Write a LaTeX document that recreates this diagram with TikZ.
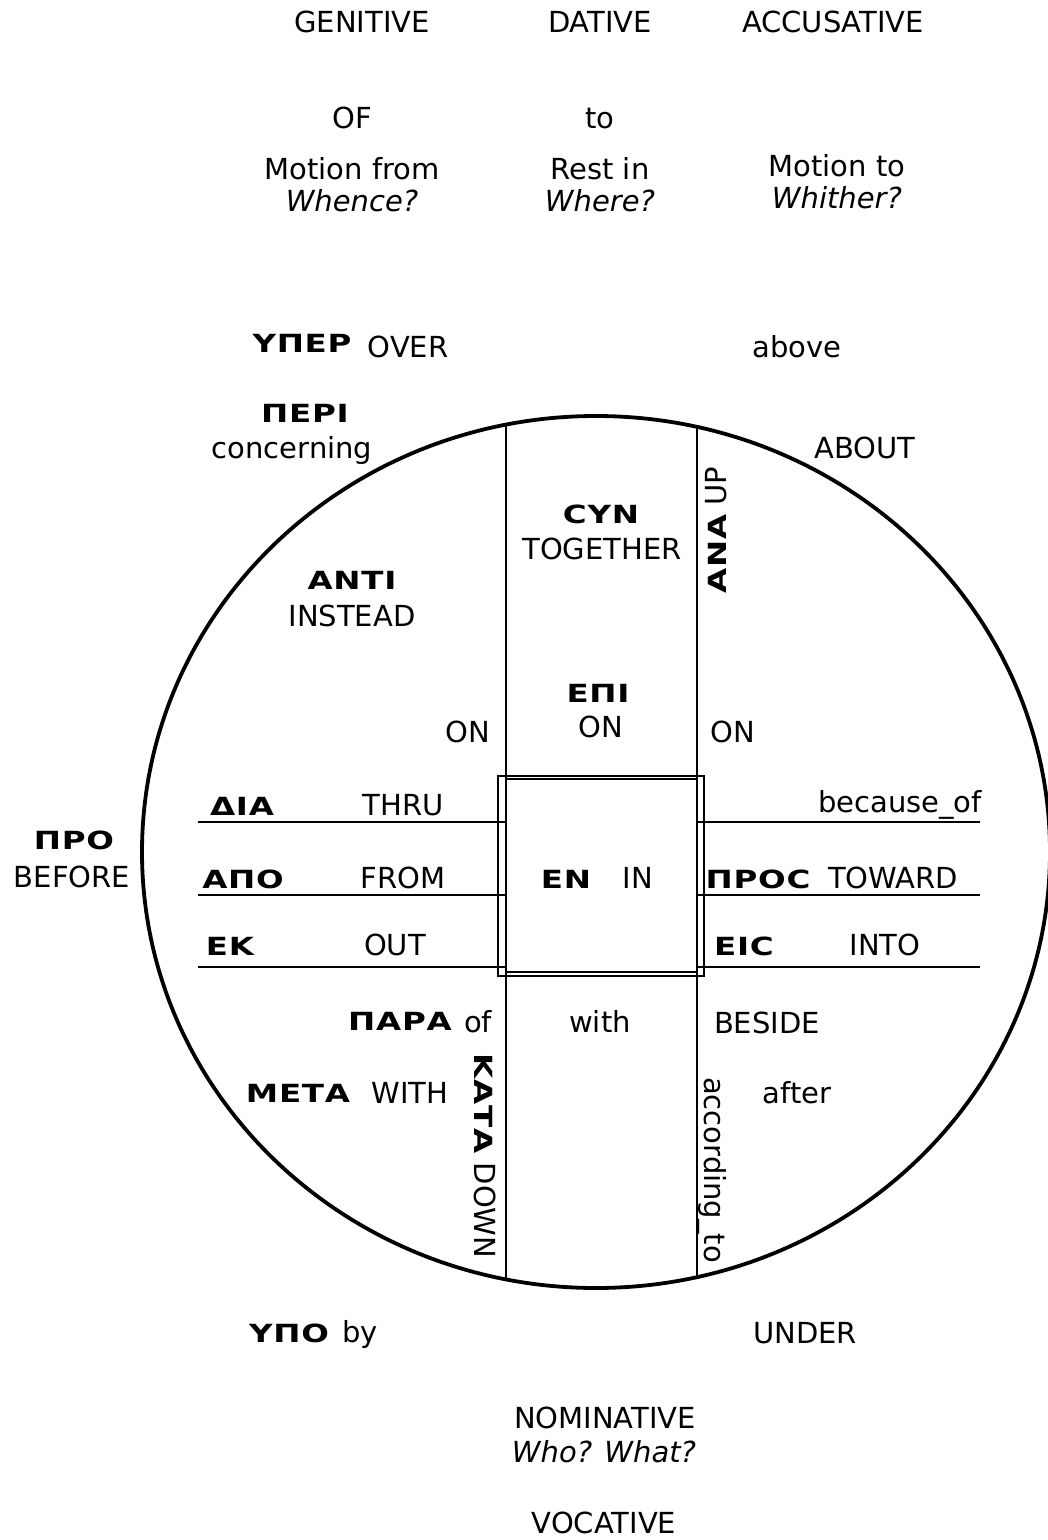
\documentclass[tikz,border=0pt]{standalone}
\usepackage{fontspec}
\setmainfont{DejaVu Sans}
\newfontfamily\grkfont[FakeStretch=1.3,LetterSpace=3]{DejaVu Sans}
\usepackage{tikz}
\newcommand\gtext[1]{{\grkfont\bfseries\fontsize{25}{28}\selectfont #1}}

\tikzset{
  lbl/.style={font=\fontsize{29}{33}\selectfont, inner sep=0pt, anchor=base},
  ital/.style={lbl, font=\fontsize{29}{33}\selectfont\itshape},
  grk/.style={font=\grkfont\bfseries\fontsize{25}{28}\selectfont, inner sep=0pt, anchor=base},
  rim/.style={line width=3.8pt},
  grid/.style={line width=2pt}
}

\begin{document}
\begin{tikzpicture}[x=1pt,y=-1pt]
   \useasboundingbox (0,0) rectangle (1048,1540);

   \draw[rim] (596,852) ellipse [x radius=454, y radius=436];
   \begin{scope}
     \clip (596,852) ellipse [x radius=454, y radius=436];
     \draw[grid] (506,0) -- (506,1540) (697,0) -- (697,1540);
   \end{scope}
   \draw[grid] (498,776) rectangle (704,976);
   \draw[grid] (506,779) rectangle (697,972);
   \foreach \y in {822,895,967} {
     \draw[grid] (198,\y) -- (506,\y);
     \draw[grid] (697,\y) -- (980,\y);
   }

   \node[lbl] (gen) at (362,32) {GENITIVE};
   \node[lbl] (dat) at (600,32) {DATIVE};
   \node[lbl] (acc) at (833,32) {ACCUSATIVE};
   \node[lbl] (of) at (352,128) {OF};
   \node[lbl] (to) at (600,128) {to};
   \node[lbl] (mfrom) at (352,179) {Motion from};
   \node[ital] (whence) at (352,211) {Whence?};
   \node[lbl] (rest) at (600,179) {Rest in};
   \node[ital] (where) at (600,211) {Where?};
   \node[lbl] (mto) at (837,176) {Motion to};
   \node[ital] (whither) at (837,208) {Whither?};

   \node[grk] (hyper) at (302,352) {ΥΠΕΡ};
   \node[lbl] (over) at (408,357) {OVER};
   \node[lbl] (above) at (797,357) {above};
   \node[grk] (peri) at (305,422) {ΠΕΡΙ};
   \node[lbl] (concern) at (292,458) {concerning};
   \node[lbl] (about) at (865,458) {ABOUT};
   \node[grk] (syn) at (601,523) {ϹΥΝ};
   \node[lbl] (together) at (602,559) {TOGETHER};
   \node[lbl, rotate=90, anchor=center] (ana) at (716,530) {\gtext{ΑΝΑ} UP};
   \node[grk] (anti) at (352,589) {ΑΝΤΙ};
   \node[lbl] (instead) at (352,626) {INSTEAD};
   \node[grk] (epi) at (598,702) {ΕΠΙ};
   \node[lbl] (on) at (601,737) {ON};
   \node[lbl] (onl) at (468,742) {ON};
   \node[lbl] (onr) at (733,742) {ON};

   \node[grk] (pro) at (74,849) {ΠΡΟ};
   \node[lbl] (before) at (72,887) {BEFORE};
   \node[grk] (dia) at (242,815) {ΔΙΑ};
   \node[lbl] (thru) at (403,815) {THRU};
   \node[lbl] (because) at (900,812) {because\_of};
   \node[grk] (apo) at (243,888) {ΑΠΟ};
   \node[lbl] (from) at (403,888) {FROM};
   \node[grk] (en) at (566,888) {ΕΝ};
   \node[lbl] (in) at (638,888) {IN};
   \node[grk] (pros) at (758,888) {ΠΡΟϹ};
   \node[lbl] (toward) at (893,888) {TOWARD};
   \node[grk] (ek) at (230,955) {ΕΚ};
   \node[lbl] (out) at (395,955) {OUT};
   \node[grk] (eis) at (744,955) {ΕΙϹ};
   \node[lbl] (into) at (885,955) {INTO};

   \node[grk] (para) at (400,1030) {ΠΑΡΑ};
   \node[lbl] (ofp) at (478,1032) {of};
   \node[lbl] (with) at (600,1032) {with};
   \node[lbl] (beside) at (767,1033) {BESIDE};
   \node[grk] (meta) at (298,1102) {ΜΕΤΑ};
   \node[lbl] (withc) at (410,1103) {WITH};
   \node[lbl] (after) at (797,1103) {after};
   \node[lbl, rotate=-90, anchor=center] (kata) at (485,1156) {\gtext{ΚΑΤΑ} DOWN};
   \node[lbl, rotate=-90, anchor=center] (accord) at (712,1170) {according\_to};

   \node[grk] (hypo) at (289,1342) {ΥΠΟ};
   \node[lbl] (by) at (360,1342) {by};
   \node[lbl] (under) at (805,1343) {UNDER};
   \node[lbl] (nom) at (605,1428) {NOMINATIVE};
   \node[ital] (who) at (604,1462) {Who? What?};
   \node[lbl] (voc) at (604,1533) {VOCATIVE};
\end{tikzpicture}
\end{document}
